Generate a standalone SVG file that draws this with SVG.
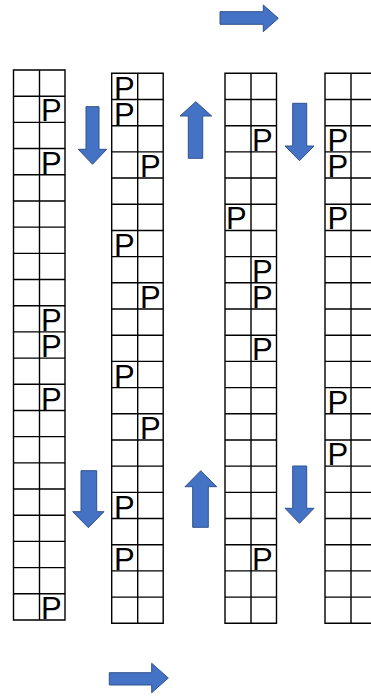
<svg xmlns="http://www.w3.org/2000/svg" width="371" height="696" viewBox="0 0 371 696">
<style>
.grid{fill:none;stroke:#000;stroke-width:1.4}
.p{font-family:"Liberation Sans",Arial,sans-serif;font-size:31px;fill:#000}
.arr{fill:#4472C4;stroke:#2F528F;stroke-width:1}
</style>
<defs>
<path id="col" class="grid" d="M0,0H51.5V550H0Z M26,0V550 M0,26.19h51.5 M0,52.38h51.5 M0,78.57h51.5 M0,104.76h51.5 M0,130.95h51.5 M0,157.14h51.5 M0,183.33h51.5 M0,209.52h51.5 M0,235.71h51.5 M0,261.9h51.5 M0,288.09h51.5 M0,314.28h51.5 M0,340.47h51.5 M0,366.66h51.5 M0,392.85h51.5 M0,419.04h51.5 M0,445.23h51.5 M0,471.42h51.5 M0,497.61h51.5 M0,523.8h51.5"/>
</defs>
<rect width="371" height="696" fill="#fff"/>
<g id="column1">
<use href="#col" x="13.5" y="70"/>
<text class="p" x="41" y="121.4">P</text>
<text class="p" x="41" y="173.8">P</text>
<text class="p" x="41" y="330.9">P</text>
<text class="p" x="41" y="357.1">P</text>
<text class="p" x="41" y="409.5">P</text>
<text class="p" x="41" y="619">P</text>
</g>
<g id="column2">
<use href="#col" x="111.7" y="73.3"/>
<text class="p" x="114" y="98.5">P</text>
<text class="p" x="114" y="124.7">P</text>
<text class="p" x="140" y="177.1">P</text>
<text class="p" x="114" y="255.6">P</text>
<text class="p" x="140" y="308">P</text>
<text class="p" x="114" y="386.6">P</text>
<text class="p" x="140" y="439">P</text>
<text class="p" x="114" y="517.5">P</text>
<text class="p" x="114" y="569.9">P</text>
</g>
<g id="column3">
<use href="#col" x="225" y="73.3"/>
<text class="p" x="252" y="150.9">P</text>
<text class="p" x="226" y="229.4">P</text>
<text class="p" x="252" y="281.8">P</text>
<text class="p" x="252" y="308">P</text>
<text class="p" x="252" y="360.4">P</text>
<text class="p" x="252" y="569.9">P</text>
</g>
<g id="column4">
<use href="#col" x="325" y="73.3"/>
<text class="p" x="327.5" y="150.9">P</text>
<text class="p" x="327.5" y="177.1">P</text>
<text class="p" x="327.5" y="229.4">P</text>
<text class="p" x="327.5" y="412.8">P</text>
<text class="p" x="327.5" y="465.2">P</text>
</g>
<g id="connectors">
<polygon class="arr" points="220,11.7 263.3,11.7 263.3,5 278.3,18.3 263.3,31.7 263.3,24.3 220,24.3"/>
<polygon class="arr" points="109.3,672.7 151.7,672.7 151.7,663.3 168.3,678 151.7,692.7 151.7,685 109.3,685"/>
<polygon class="arr" points="86,106.7 99,106.7 99,149.3 106.7,149.3 92.5,164.3 78.3,149.3 86,149.3"/>
<polygon class="arr" points="81,470.7 96.7,470.7 96.7,511.7 104,511.7 88.4,527.7 72.7,511.7 81,511.7"/>
<polygon class="arr" points="195.8,101.7 211.7,116 202.7,116 202.7,158.3 188.3,158.3 188.3,116 180,116"/>
<polygon class="arr" points="200.8,470.7 216.7,486.7 208.3,486.7 208.3,527.3 192.7,527.3 192.7,486.7 185,486.7"/>
<polygon class="arr" points="292.7,103.3 306.7,103.3 306.7,146 314,146 299.5,160.7 285,146 292.7,146"/>
<polygon class="arr" points="292.7,466 306.7,466 306.7,508.3 314,508.3 299.5,523.3 285,508.3 292.7,508.3"/>
</g>
</svg>
